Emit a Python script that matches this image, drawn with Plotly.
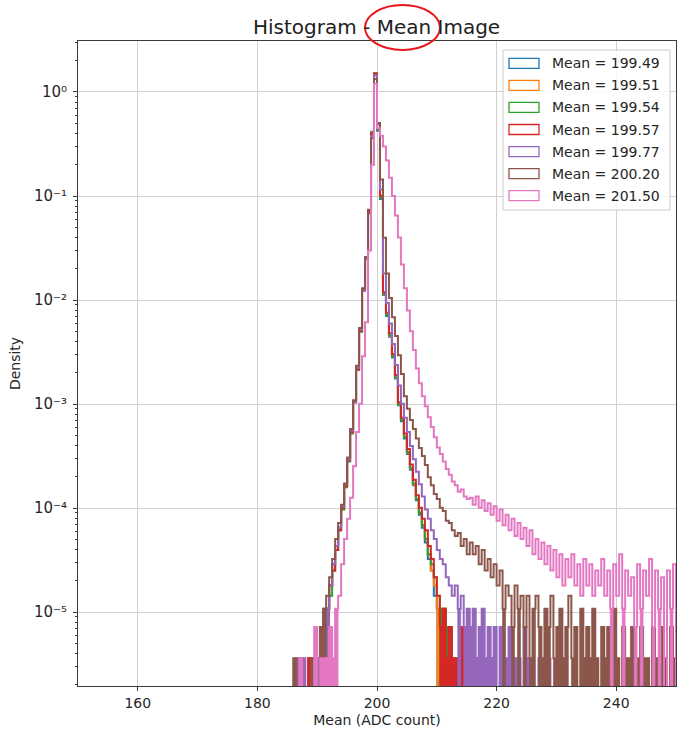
import numpy as np
import plotly.graph_objects as go

# ---------------- data ----------------
BIN_WIDTH = 0.5            # histogram bin width (ADC counts)
DENSITY_PER_COUNT = 3.6e-6  # density of one single-entry bin
FLOOR = 1e-8               # where empty bins are drawn (below the visible axis)
FILL_MAX = 3               # very sparse bins look solid in the reference

LABELS = ["Mean = 199.49", "Mean = 199.51", "Mean = 199.54", "Mean = 199.57",
          "Mean = 199.77", "Mean = 200.20", "Mean = 201.50"]
COLORS = ["#1f77b4", "#ff7f0e", "#2ca02c", "#d62728", "#9467bd", "#8c564b", "#e377c2"]
STARTS = [187.0, 188.0, 188.5, 188.0, 186.5, 186.0, 186.0]

BLUE_COUNTS = [1, 0, 0, 1, 0, 1, 0, 2, 3, 3, 5, 8, 12, 18, 28, 46, 80, 150, 295, 600,
               1400, 3500, 7000, 20500, 115000, 410000, 118000, 26000, 3100, 1950,
               1230, 780, 490, 270, 190, 130, 92, 65, 46, 33, 24, 18, 13, 9, 7, 4,
               3, 2, 1, 1, 0, 1]
ORANGE_COUNTS = [0, 1, 0, 1, 1, 2, 2, 3, 5, 7, 11, 17, 27, 45, 79, 148, 290, 595, 1390,
                 3480, 6950, 20200, 113000, 415000, 121000, 27000, 3150, 2000, 1260,
                 800, 500, 275, 195, 135, 95, 67, 47, 34, 25, 19, 14, 10, 7, 5, 3, 2,
                 3, 1, 2, 1, 1]
GREEN_COUNTS = [0, 1, 0, 1, 1, 2, 3, 4, 7, 11, 17, 27, 44, 78, 145, 290, 590, 1380, 3450,
                6900, 20000, 112000, 420000, 122000, 27000, 3200, 2000, 1270, 800, 500,
                275, 195, 135, 96, 68, 48, 34, 25, 19, 14, 10, 8, 6, 4, 3, 3, 2, 2, 1, 0]
RED_COUNTS = [0, 1, 0, 1, 1, 2, 2, 3, 5, 7, 11, 17, 28, 45, 80, 150, 300, 600, 1400, 3500,
              7000, 20000, 110000, 417000, 125000, 28000, 3300, 2100, 1330, 840, 530,
              290, 205, 145, 103, 73, 52, 37, 28, 22, 17, 12, 9, 6, 4, 2, 3, 1, 2, 1,
              1, 1, 2, 1, 1, 1, 0, 1, 0, 1, 0, 0, 1]
PURPLE_COUNTS = [1, 0, 1, 0, 0, 0, 1, 1, 1, 2, 3, 5, 8, 12, 18, 29, 47, 82, 155, 290, 620,
                 1450, 3400, 7000, 19000, 105000, 400000, 135000, 32000, 5000, 2600,
                 1650, 1050, 660, 420, 280, 205, 150, 110, 82, 62, 47, 36, 27, 22, 17,
                 14, 11, 9, 8, 6, 5, 4, 5, 3, 4, 2, 3, 2, 3, 1, 2, 3, 1, 2, 1, 2, 0, 2,
                 1, 1, 2, 0, 1, 1, 0, 2, 1, 1, 0, 0, 1, 0, 0, 1]
BROWN_COUNTS = [1, 0, 1, 0, 0, 0, 1, 1, 0, 2,
                3, 4, 6, 9, 14, 20, 30, 48, 85, 160,
                300, 650, 1500, 3600, 7200, 19000, 100000, 370000, 140000, 40000,
                11000, 5000, 2900, 1900, 1250, 820, 540, 330, 250, 195,
                160, 130, 105, 88, 72, 55, 46, 38, 34, 28,
                26, 21, 20, 17, 15, 16, 12, 14, 10, 13,
                10, 12, 8, 11, 7, 9, 6, 8, 5, 7,
                3, 5, 4, 2, 5, 3, 4, 2, 4, 1,
                3, 4, 2, 1, 3, 2, 4, 1, 2, 3,
                1, 2, 4, 1, 2, 0, 3, 1, 2, 1,
                3, 1, 0, 2, 1, 2, 1, 3, 1, 0,
                2, 1, 1, 2, 0, 1, 2, 1, 1, 0,
                2, 1, 1, 2, 1, 0, 2, 1]
PINK_COUNTS = [0, 0, 1, 0, 0, 0, 0, 2, 0, 1,
               1, 1, 2, 1, 3, 4, 8, 14, 22, 35,
               70, 150, 280, 800, 1700, 8300, 55600, 333000, 125000, 105600,
               83300, 61100, 41700, 27800, 18000, 11100, 6100, 3600, 2200, 1390,
               920, 610, 440, 330, 264, 208, 167, 133, 106, 92,
               78, 66, 58, 50, 46, 40, 42, 36, 34, 35,
               30, 36, 28, 33, 26, 31, 24, 29, 21, 27,
               19, 24, 17, 22, 15, 20, 14, 18, 12, 17,
               10, 14, 9, 13, 8, 12, 7, 11, 6, 10,
               5, 9, 6, 10, 5, 8, 4, 9, 5, 8,
               4, 7, 5, 9, 4, 7, 3, 8, 4, 10,
               3, 7, 4, 6, 2, 8, 3, 7, 4, 9,
               2, 7, 3, 6, 0, 7, 3, 8]
SERIES_COUNTS = [BLUE_COUNTS, ORANGE_COUNTS, GREEN_COUNTS, RED_COUNTS,
                 PURPLE_COUNTS, BROWN_COUNTS, PINK_COUNTS]

X_TICKS = [160, 180, 200, 220, 240]
Y_TICKS = [1e-5, 1e-4, 1e-3, 1e-2, 1e-1, 1e0]
Y_TICK_TEXT = ["10\u207b\u2075", "10\u207b\u2074", "10\u207b\u00b3",
               "10\u207b\u00b2", "10\u207b\u00b9", "10\u2070"]
X_RANGE = [150, 250]
Y_RANGE_LOG = [-5.71, 0.49]

# ---------------- figure ----------------
W, H = 677, 730
ML, MR, MT, MB = 78, 1, 41, 44
PW, PH = W - ML - MR, H - MT - MB


def px_to_paper_x(px):
    return (px - ML) / PW


def py_to_paper_y(py):
    return (H - MB - py) / PH


fig = go.Figure()

for label, color, start, counts in zip(LABELS, COLORS, STARTS, SERIES_COUNTS):
    counts = np.asarray(counts, dtype=float)
    n = len(counts)
    edges = start + BIN_WIDTH * np.arange(n + 1)
    dens = np.where(counts > 0, counts * DENSITY_PER_COUNT, FLOOR)

    # sparse bins: solid look (as produced by the many empty fine bins)
    fx, fy = [], []
    i = 0
    while i < n:
        if 0 < counts[i] <= FILL_MAX:
            j = i
            px_, py_ = [edges[i]], [FLOOR]
            while j < n and 0 < counts[j] <= FILL_MAX:
                px_ += [edges[j], edges[j + 1]]
                py_ += [dens[j], dens[j]]
                j += 1
            px_.append(edges[j])
            py_.append(FLOOR)
            fx += px_ + [None]
            fy += py_ + [None]
            i = j
        else:
            i += 1
    if fx:
        fig.add_trace(go.Scatter(x=fx, y=fy, mode="lines", fill="toself",
                                 fillcolor=color, line=dict(color=color, width=0.6),
                                 hoverinfo="skip", showlegend=False))

    # step outline
    xs, ys = [edges[0]], [FLOOR]
    for k in range(n):
        xs += [edges[k], edges[k + 1]]
        ys += [dens[k], dens[k]]
    xs.append(edges[-1])
    ys.append(FLOOR)
    fig.add_trace(go.Scatter(x=xs, y=ys, mode="lines", name=label,
                             line=dict(color=color, width=2), showlegend=False))

minor_vals = [m * 10.0 ** k for k in range(-6, 1) for m in range(2, 10)
              if Y_RANGE_LOG[0] <= np.log10(m * 10.0 ** k) <= Y_RANGE_LOG[1]]

AXIS_COLOR = "#3a3a3a"
GRID_COLOR = "#d0d0d0"
TEXT_COLOR = "#262626"

fig.update_layout(
    width=W, height=H, margin=dict(l=ML, r=MR, t=MT, b=MB),
    paper_bgcolor="white", plot_bgcolor="white",
    font=dict(family="DejaVu Sans", color=TEXT_COLOR, size=14),
    showlegend=False,
)
fig.update_xaxes(
    range=X_RANGE, tickmode="array", tickvals=X_TICKS,
    ticktext=[str(v) for v in X_TICKS],
    tickfont=dict(family="DejaVu Sans", size=14, color=TEXT_COLOR),
    showgrid=True, gridcolor=GRID_COLOR, gridwidth=1, zeroline=False,
    showline=True, mirror=True, linecolor=AXIS_COLOR, linewidth=1,
    ticks="outside", ticklen=4, tickcolor=AXIS_COLOR,
    title=dict(text="Mean (ADC count)", font=dict(family="DejaVu Sans", size=14),
               standoff=5),
)
fig.update_yaxes(
    type="log", range=Y_RANGE_LOG, tickmode="array", tickvals=Y_TICKS,
    ticktext=Y_TICK_TEXT,
    tickfont=dict(family="DejaVu Sans", size=15, color=TEXT_COLOR),
    showgrid=True, gridcolor=GRID_COLOR, gridwidth=1, zeroline=False,
    showline=True, mirror=True, linecolor=AXIS_COLOR, linewidth=1,
    ticks="outside", ticklen=4, tickcolor=AXIS_COLOR, ticklabelstandoff=3,
    minor=dict(tickmode="array", tickvals=minor_vals, ticks="outside", ticklen=2,
               tickcolor=AXIS_COLOR, showgrid=False),
    title=dict(text="Density", font=dict(family="DejaVu Sans", size=14), standoff=10),
)

annotations = [dict(text="Histogram - Mean Image", xref="paper", yref="paper",
                    x=px_to_paper_x(376.5), y=py_to_paper_y(27), xanchor="center",
                    yanchor="middle", showarrow=False,
                    font=dict(family="DejaVu Sans", size=20, color="#222222"))]
shapes = [dict(type="circle", xref="paper", yref="paper",
               x0=px_to_paper_x(365), x1=px_to_paper_x(440),
               y0=py_to_paper_y(50), y1=py_to_paper_y(5),
               line=dict(color="#e8141b", width=2))]

# legend box (matplotlib style: outlined patches)
shapes.append(dict(type="rect", xref="paper", yref="paper", layer="above",
                   x0=px_to_paper_x(503), x1=px_to_paper_x(670),
                   y0=py_to_paper_y(210), y1=py_to_paper_y(50),
                   fillcolor="rgba(255,255,255,0.85)",
                   line=dict(color="#cccccc", width=1)))
ROW0, ROW_STEP = 63.3, 22.07
for i, (label, color) in enumerate(zip(LABELS, COLORS)):
    cy = ROW0 + ROW_STEP * i
    shapes.append(dict(type="rect", xref="paper", yref="paper", layer="above",
                       x0=px_to_paper_x(509), x1=px_to_paper_x(539),
                       y0=py_to_paper_y(cy + 5), y1=py_to_paper_y(cy - 5),
                       fillcolor="rgba(0,0,0,0)", line=dict(color=color, width=1.3)))
    annotations.append(dict(text=label, xref="paper", yref="paper",
                            x=px_to_paper_x(550), y=py_to_paper_y(cy),
                            xanchor="left", yanchor="middle", showarrow=False,
                            font=dict(family="DejaVu Sans", size=14, color=TEXT_COLOR)))

fig.update_layout(annotations=annotations, shapes=shapes)
fig.write_html("out.html")
